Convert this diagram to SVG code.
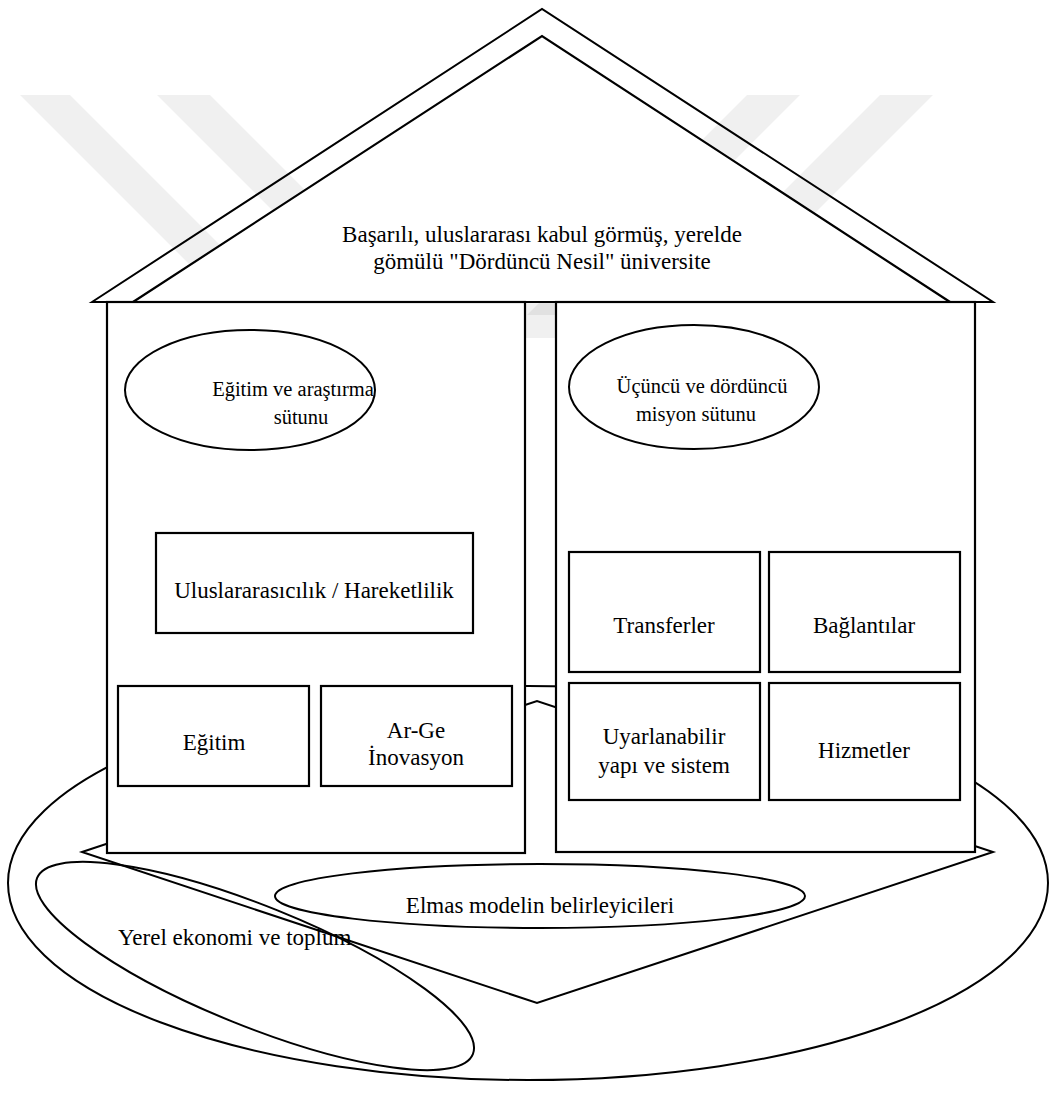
<svg xmlns="http://www.w3.org/2000/svg" width="1053" height="1097" viewBox="0 0 1053 1097">
<style>
.ln{fill:none;stroke:#000;stroke-width:2}
.pl{fill:#fff;stroke:#000;stroke-width:2.2}
.box{fill:#fff;stroke:#000;stroke-width:2.2}
.ell{fill:#fff;stroke:#000;stroke-width:2}
.wm{fill:#000;fill-opacity:0.06}
text{font-family:"Liberation Serif","Times New Roman","DejaVu Serif",serif;font-size:23px;fill:#000;text-anchor:middle}
.et{font-size:20.5px}
</style>
<rect width="1053" height="1097" fill="#fff"/>
<g id="watermark">
<polygon class="wm" points="20,95 70,95 290,315 240,315"/>
<polygon class="wm" points="157,95 210,95 430,315 377,315"/>
<polygon class="wm" points="880,95 933,95 713,315 660,315"/>
<polygon class="wm" points="747,95 800,95 580,315 527,315"/>
<rect class="wm" x="525" y="302" width="32" height="36"/>
</g>
<g id="connectors">
<ellipse id="yerel-outer" class="ln" cx="528" cy="883" rx="520" ry="197"/>
<polygon id="diamond" class="ln" points="82,852 537,701 993,852 537,1003"/>
</g>
<g id="roof">
<polygon class="ln" points="92,302 542,9 993,302"/>
<polygon class="pl" points="133,302 542,36 950,302"/>
<line class="ln" x1="92" y1="302" x2="993" y2="302"/>
<text x="542" y="242">Başarılı, uluslararası kabul görmüş, yerelde</text>
<text x="542" y="269">gömülü "Dördüncü Nesil" üniversite</text>
</g>
<g id="pillar-left">
<rect class="pl" x="107" y="302" width="418" height="551"/>
</g>
<g id="pillar-right">
<rect class="pl" x="556" y="302" width="419" height="550"/>
</g>
<g id="egitim-arastirma">
<ellipse class="ell" cx="250" cy="390" rx="125" ry="60"/>
<text class="et" x="293" y="396">Eğitim ve araştırma</text>
<text class="et" x="301" y="424">sütunu</text>
</g>
<g id="ucuncu-dorduncu">
<ellipse class="ell" cx="694" cy="387" rx="125" ry="62"/>
<text class="et" x="702" y="393">Üçüncü ve dördüncü</text>
<text class="et" x="696" y="421">misyon sütunu</text>
</g>
<g id="uluslararasi">
<rect class="box" x="156" y="533" width="317" height="100"/>
<text x="314" y="598">Uluslararasıcılık / Hareketlilik</text>
</g>
<g id="egitim">
<rect class="box" x="118" y="686" width="191" height="100"/>
<text x="214" y="750">Eğitim</text>
</g>
<g id="arge">
<rect class="box" x="321" y="686" width="191" height="100"/>
<text x="416" y="738">Ar-Ge</text>
<text x="416" y="765">İnovasyon</text>
</g>
<g id="transferler">
<rect class="box" x="569" y="552" width="191" height="120"/>
<text x="664" y="633">Transferler</text>
</g>
<g id="baglantilar">
<rect class="box" x="769" y="552" width="191" height="120"/>
<text x="864" y="633">Bağlantılar</text>
</g>
<g id="uyarlanabilir">
<rect class="box" x="569" y="683" width="191" height="117"/>
<text x="664" y="744">Uyarlanabilir</text>
<text x="664" y="773">yapı ve sistem</text>
</g>
<g id="hizmetler">
<rect class="box" x="769" y="683" width="191" height="117"/>
<text x="864" y="758">Hizmetler</text>
</g>
<g id="elmas">
<ellipse class="ln" cx="540" cy="896" rx="265" ry="32"/>
<text x="540" y="913">Elmas modelin belirleyicileri</text>
</g>
<g id="yerel">
<ellipse class="ln" cx="255" cy="966" rx="235" ry="60" transform="rotate(22 255 966)"/>
<text x="118" y="945" style="text-anchor:start">Yerel ekonomi ve toplum</text>
</g>
</svg>
